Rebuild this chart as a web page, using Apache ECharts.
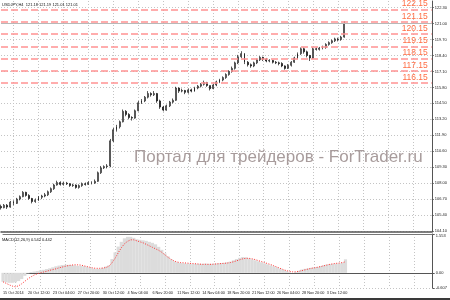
<!DOCTYPE html>
<html><head><meta charset="utf-8">
<script src="https://cdn.jsdelivr.net/npm/echarts@6/dist/echarts.min.js"></script>
<style>html,body{margin:0;padding:0;background:#fff}#c{width:450px;height:300px}</style>
</head><body><div id="c"></div>
<script>
const tickLabels = ["15 Oct 2014","20 Oct 12:00","23 Oct 04:00","27 Oct 20:00","30 Oct 12:00","4 Nov 04:00","6 Nov 20:00","11 Nov 12:00","14 Nov 04:00","18 Nov 20:00","21 Nov 12:00","26 Nov 04:00","28 Nov 20:00","3 Dec 12:00"];
const priceTicks = [104.10,105.40,106.70,108.00,109.30,110.60,111.90,113.20,114.50,115.80,117.10,118.40,119.70,121.00,122.30];
const macdTicks = [-0.607, 0, 1.553];
const levels = [122.15,121.15,120.15,119.15,118.15,117.15,116.15];
const bidPrice = 121.01;
const titleText = "USDJPY,H4  121.18 121.19 121.01 121.01";
const macdText = "MACD(12,26,9) 0.542 0.442";
const watermark = "Портал для трейдеров - ForTrader.ru";
// [open, close, low, high]
const ohlc = [
[106.10,106.00,105.85,106.25],[106.00,106.20,105.95,106.30],[106.20,106.05,105.90,106.30],[106.05,106.45,106.00,106.55],
[106.45,106.35,106.20,106.60],[106.35,106.70,106.30,106.80],[106.70,106.90,106.60,107.00],[106.90,107.25,106.85,107.35],
[107.25,107.00,106.90,107.30],[107.00,106.75,106.65,107.10],[106.75,106.50,106.35,106.80],[106.50,106.60,106.40,106.75],
[106.60,106.85,106.55,106.95],[106.85,106.95,106.70,107.05],[106.95,107.05,106.85,107.20],[107.05,107.30,106.95,107.40],
[107.30,107.55,107.20,107.65],[107.55,107.85,107.45,107.95],[107.85,108.05,107.80,108.20],[108.05,107.90,107.80,108.15],
[107.90,108.00,107.80,108.10],[108.00,107.95,107.85,108.10],[107.95,107.80,107.70,108.00],[107.80,107.85,107.70,107.95],
[107.85,107.65,107.55,107.90],[107.65,107.80,107.55,107.90],[107.80,107.95,107.70,108.05],[107.95,107.90,107.80,108.05],
[107.90,108.05,107.85,108.15],[108.05,108.00,107.90,108.15],[108.00,108.15,107.95,108.30],[108.15,108.85,108.10,108.95],
[108.85,109.25,108.75,109.40],[109.25,109.35,109.15,109.45],[109.35,109.40,109.20,109.55],[109.40,111.45,109.30,111.60],
[111.45,112.35,111.35,112.50],[112.35,112.60,112.20,112.75],[112.60,113.00,112.45,113.10],[113.00,113.85,112.95,114.00],
[113.85,113.60,113.45,113.95],[113.60,113.35,113.20,113.70],[113.35,113.30,113.10,113.45],[113.30,113.90,113.25,114.00],
[113.90,114.55,113.85,114.70],[114.55,114.70,114.45,114.85],[114.70,115.00,114.60,115.10],[115.00,115.30,114.90,115.50],
[115.30,115.20,115.05,115.40],[115.20,115.30,115.10,115.50],[115.30,114.70,114.55,115.35],[114.70,114.20,114.05,114.80],
[114.20,113.95,113.85,114.30],[113.95,114.30,113.90,114.40],[114.30,114.60,114.20,114.70],[114.60,114.75,114.50,114.90],
[114.75,115.75,114.70,115.85],[115.75,115.50,115.35,115.80],[115.50,115.55,115.40,115.70],[115.55,115.40,115.25,115.60],
[115.40,115.60,115.30,115.70],[115.60,115.50,115.40,115.70],[115.50,115.75,115.45,115.85],[115.75,115.90,115.65,116.00],
[115.90,116.05,115.80,116.15],[116.05,116.20,115.95,116.35],[116.20,115.95,115.85,116.25],[115.95,115.70,115.55,115.95],
[115.70,116.00,115.65,116.10],[116.00,116.25,115.90,116.35],[116.25,116.40,116.15,116.50],[116.40,116.60,116.30,116.70],
[116.60,116.85,116.50,116.95],[116.85,117.10,116.75,117.20],[117.10,117.35,117.00,117.50],[117.35,117.80,117.25,117.90],
[117.80,118.30,117.70,118.45],[118.30,118.55,118.20,118.75],[118.55,117.85,117.70,118.60],[117.85,117.65,117.50,117.95],
[117.65,117.55,117.40,117.75],[117.55,117.80,117.45,117.90],[117.80,118.05,117.70,118.15],[118.05,118.25,117.95,118.35],
[118.25,118.10,117.95,118.30],[118.10,117.95,117.85,118.20],[117.95,118.00,117.85,118.10],[118.00,117.85,117.75,118.05],
[117.85,117.80,117.70,117.95],[117.80,117.75,117.60,117.90],[117.75,117.55,117.45,117.85],[117.55,117.35,117.25,117.60],
[117.35,117.60,117.30,117.70],[117.60,117.85,117.50,117.95],[117.85,118.20,117.80,118.30],[118.20,118.55,118.10,118.65],
[118.55,118.95,118.45,119.05],[118.95,118.70,118.55,119.05],[118.70,118.40,118.25,118.80],[118.40,118.20,117.95,118.45],
[118.20,118.95,118.15,119.05],[118.95,118.90,118.80,119.05],[118.90,119.00,118.80,119.10],[119.00,119.05,118.90,119.20],
[119.05,119.30,118.95,119.40],[119.30,119.45,119.20,119.55],[119.45,119.60,119.35,119.70],[119.60,119.75,119.50,119.85],
[119.75,119.70,119.55,119.85],[119.70,119.90,119.60,120.00],[119.90,121.01,119.85,121.19]
];
const macdHist = [
-0.36,-0.38,-0.40,-0.40,-0.38,-0.33,-0.25,-0.12,-0.02,0.03,0.05,0.07,0.10,0.12,0.15,0.18,0.22,0.26,0.29,0.31,
0.32,0.32,0.31,0.30,0.28,0.28,0.27,0.24,0.20,0.17,0.15,0.16,0.20,0.25,0.30,0.55,0.82,1.05,1.24,1.38,
1.44,1.44,1.40,1.34,1.32,1.30,1.28,1.24,1.20,1.14,1.04,0.92,0.78,0.66,0.54,0.46,0.42,0.40,0.38,0.37,
0.37,0.36,0.36,0.36,0.36,0.37,0.36,0.36,0.37,0.38,0.39,0.40,0.42,0.45,0.50,0.55,0.60,0.63,0.62,0.58,
0.54,0.50,0.46,0.42,0.38,0.34,0.30,0.26,0.22,0.17,0.12,0.07,0.03,0.00,0.03,0.08,0.13,0.16,0.18,0.20,
0.22,0.24,0.27,0.30,0.33,0.35,0.36,0.37,0.38,0.40,0.54
];
const macdSignal = [
-0.36,-0.42,-0.48,-0.53,-0.56,-0.52,-0.44,-0.34,-0.24,-0.16,-0.09,-0.04,0.00,0.03,0.06,0.10,0.13,0.16,0.20,0.23,
0.26,0.29,0.31,0.32,0.32,0.31,0.28,0.25,0.22,0.19,0.18,0.18,0.19,0.21,0.26,0.40,0.58,0.80,1.00,1.16,
1.26,1.32,1.32,1.28,1.24,1.20,1.14,1.08,1.02,0.96,0.90,0.82,0.72,0.62,0.54,0.47,0.43,0.41,0.40,0.39,
0.38,0.37,0.36,0.35,0.34,0.34,0.34,0.34,0.35,0.36,0.37,0.38,0.39,0.41,0.44,0.48,0.52,0.56,0.58,0.58,
0.56,0.53,0.49,0.45,0.41,0.37,0.33,0.28,0.23,0.18,0.13,0.09,0.06,0.04,0.04,0.06,0.09,0.12,0.15,0.18,
0.20,0.22,0.25,0.28,0.31,0.34,0.36,0.38,0.39,0.41,0.44
];
const totalSlots = 139;
const labelEvery = 8;

const cats = Array.from({length: totalSlots}, (_, i) => String(i));
const gridDot = {show: true, interval: (i) => i % labelEvery === 4, lineStyle: {color: '#c4c4c4', type: [1, 2], width: 1}};
const FONT = 'Liberation Sans';

const levelLines = [];
levels.forEach(v => {
  levelLines.push({yAxis: v, lineStyle: {color: '#ff9292', type: [7, 3], width: 1.6},
    label: {show: true, position: 'insideEndTop', distance: [4, 1], formatter: v.toFixed(2), color: '#ff6e45', fontSize: 8.5, fontFamily: FONT}});
  levelLines.push({yAxis: v, lineStyle: {opacity: 0},
    label: {show: true, position: 'end', distance: 1, formatter: v.toFixed(2), color: '#fff', backgroundColor: '#f00', fontSize: 4, padding: [1, 1.5], fontFamily: FONT}});
});
levelLines.push({yAxis: bidPrice, lineStyle: {color: '#b8b8b8', type: 'solid', width: 1}, label: {show: false}});

const chart = echarts.init(document.getElementById('c'), null, {renderer: 'canvas'});
chart.setOption({
  animation: false,
  backgroundColor: '#fff',
  textStyle: {fontFamily: FONT},
  title: [
    {text: titleText, left: 2, top: 3, padding: 0, textStyle: {fontSize: 4, fontWeight: 'normal', color: '#111', fontFamily: FONT}},
    {text: macdText, left: 2, top: 238, padding: 0, textStyle: {fontSize: 4, fontWeight: 'normal', color: '#111', fontFamily: FONT}}
  ],
  graphic: [
    {type: 'text', left: 134, top: 149, silent: true, z: 1,
     style: {text: watermark, fontSize: 17, fill: '#a89c9c', fontFamily: FONT}},
    {type: 'rect', left: 0, top: 298, shape: {width: 450, height: 2}, style: {fill: '#3a3a3a'}, silent: true}
  ],
  grid: [
    {left: 1, top: 1, width: 432, height: 231},
    {left: 1, top: 234, width: 432, height: 54}
  ],
  xAxis: [
    {type: 'category', gridIndex: 0, data: cats, boundaryGap: false,
     axisLabel: {show: false}, axisTick: {show: false},
     axisLine: {show: true, lineStyle: {color: '#555', width: 1.5}}, splitLine: gridDot},
    {type: 'category', gridIndex: 1, data: cats, boundaryGap: false, position: 'bottom',
     axisLabel: {show: true, interval: (i) => i % labelEvery === 0, formatter: (v, i) => tickLabels[i / labelEvery] || '',
       showMinLabel: true, hideOverlap: false,
       align: 'left', fontSize: 3.8, color: '#222', margin: 3, fontFamily: FONT},
     axisTick: {show: false},
     axisLine: {show: true, lineStyle: {color: '#555', width: 1}}, splitLine: gridDot},
    {type: 'category', gridIndex: 1, data: cats, boundaryGap: false, position: 'top',
     axisLabel: {show: false}, axisTick: {show: false},
     axisLine: {show: true, lineStyle: {color: '#777', width: 1}}, splitLine: {show: false}}
  ],
  yAxis: [
    {type: 'value', gridIndex: 0, position: 'right', min: 104.02, max: 122.84, scale: true,
     axisLabel: {customValues: priceTicks, formatter: v => v.toFixed(2), fontSize: 4, color: '#222', margin: 3, fontFamily: FONT},
     axisTick: {show: true, customValues: priceTicks, length: 2, lineStyle: {color: '#555'}},
     axisLine: {show: true, lineStyle: {color: '#555', width: 1}},
     splitLine: {show: true, lineStyle: {color: '#c4c4c4', type: [1, 2], width: 1}}},
    {type: 'value', gridIndex: 1, position: 'right', min: -0.607, max: 1.553,
     axisLabel: {customValues: macdTicks, formatter: v => v === 0 ? '0.00' : String(v), fontSize: 4, color: '#222', margin: 3,
       verticalAlignMaxLabel: 'top', fontFamily: FONT},
     axisTick: {show: true, customValues: macdTicks, length: 2, lineStyle: {color: '#555'}},
     axisLine: {show: true, lineStyle: {color: '#555', width: 1}},
     splitLine: {show: true, lineStyle: {color: '#c4c4c4', type: [1, 2], width: 1}}}
  ],
  series: [
    {type: 'candlestick', xAxisIndex: 0, yAxisIndex: 0, data: ohlc.map(r => [r[0], r[1], r[2], r[3]]),
     barWidth: 1.4, clip: true,
     itemStyle: {color: '#ffffff', color0: '#000000', borderColor: '#111', borderColor0: '#111', borderWidth: 0.7},
     markLine: {silent: true, symbol: 'none', animation: false, data: levelLines}, z: 3},
    {type: 'bar', xAxisIndex: 1, yAxisIndex: 1, data: macdHist, barWidth: 3.2,
     itemStyle: {color: '#dcdcdc'}, silent: true},
    {type: 'line', xAxisIndex: 1, yAxisIndex: 1, data: macdSignal, symbol: 'none', silent: true,
     lineStyle: {color: '#ff3030', width: 1, type: [1, 1.5]}}
  ]
});
</script></body></html>
